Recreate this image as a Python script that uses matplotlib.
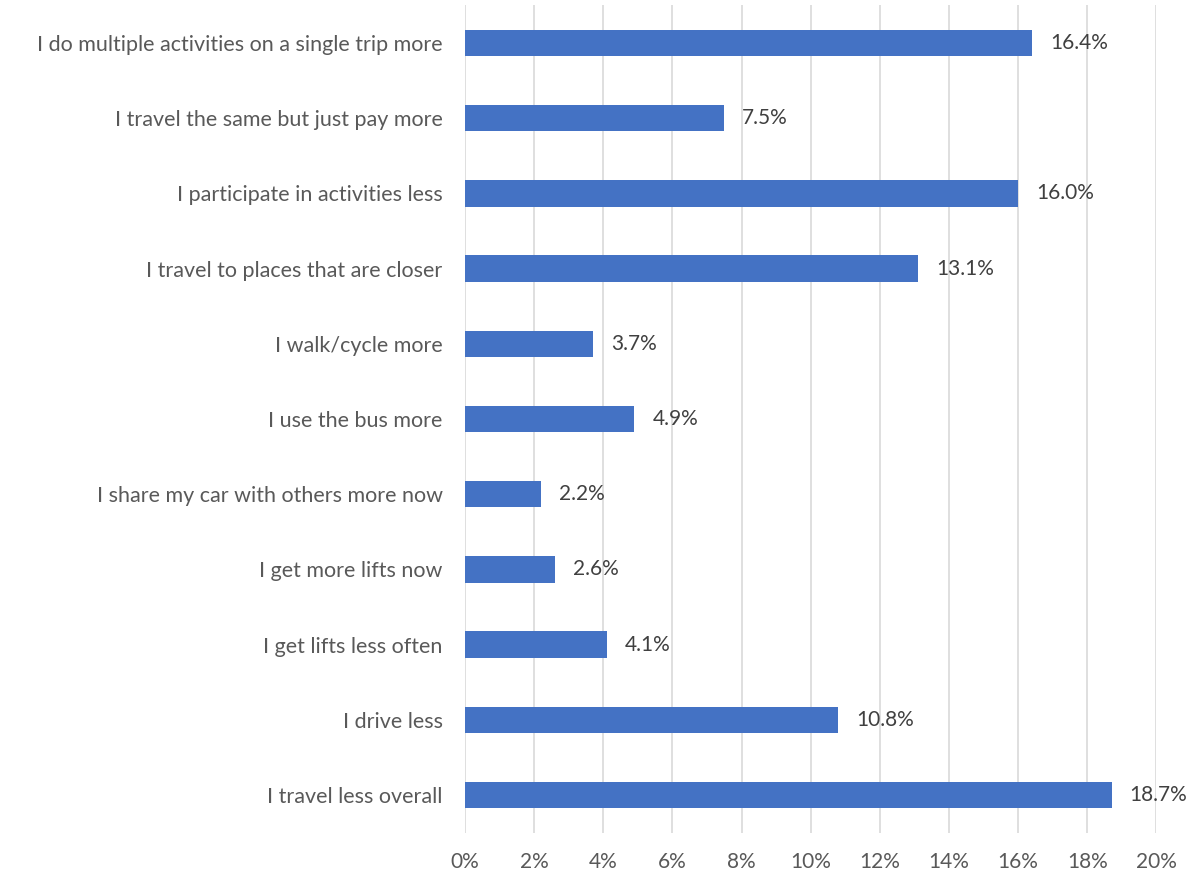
import matplotlib.pyplot as plt

plt.rcParams['font.family'] = ['Lato', 'DejaVu Sans']

# 回答类别（从上到下）
labels = [
    "I do multiple activities on a single trip more",
    "I travel the same but just pay more",
    "I participate in activities less",
    "I travel to places that are closer",
    "I walk/cycle more",
    "I use the bus more",
    "I share my car with others more now",
    "I get more lifts now",
    "I get lifts less often",
    "I drive less",
    "I travel less overall",
]
values = [16.4, 7.5, 16.0, 13.1, 3.7, 4.9, 2.2, 2.6, 4.1, 10.8, 18.7]
xticks = [0, 2, 4, 6, 8, 10, 12, 14, 16, 18, 20]

fig = plt.figure(figsize=(11.91, 8.74), dpi=100)
ax = fig.add_axes([0.3904, 0.0474, 0.5806, 0.9464])

pos = list(range(len(labels)))[::-1]
ax.barh(pos, values, height=0.35, color='#4472C4', zorder=3)

for y, v in zip(pos, values):
    ax.annotate(f"{v:.1f}%", (v, y), xytext=(13, 0), textcoords='offset points',
                va='center', ha='left', fontsize=15, color='#404040')

ax.set_xlim(0, 20)
ax.set_ylim(-0.5, len(labels) - 0.5)
ax.set_xticks(xticks)
ax.set_xticklabels([f"{t}%" for t in xticks], fontsize=15, color='#595959')
ax.set_yticks(pos)
ax.set_yticklabels(labels, fontsize=15.5, color='#595959')
ax.tick_params(axis='both', length=0)
ax.tick_params(axis='x', pad=14)
ax.tick_params(axis='y', pad=16)

ax.grid(axis='x', color='#d9d9d9', linewidth=1.2, zorder=0)
for s in ax.spines.values():
    s.set_visible(False)

fig.savefig('out.png', dpi=100)
